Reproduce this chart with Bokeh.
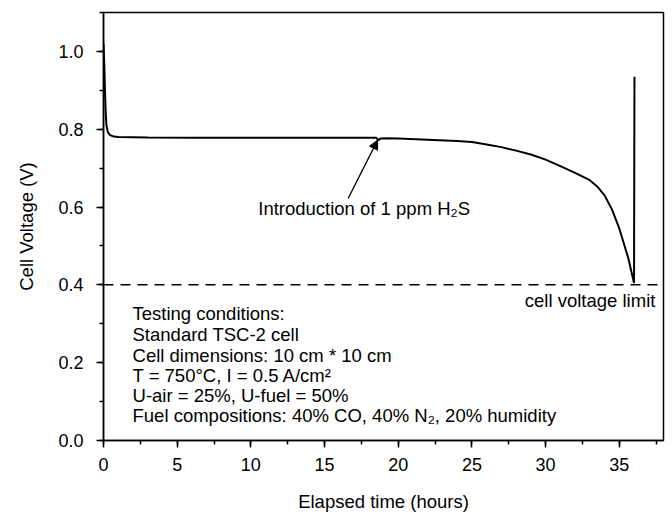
from bokeh.plotting import figure
from bokeh.models import SingleIntervalTicker, Arrow, NormalHead, Span, Label, CustomJSTickFormatter
from bokeh.embed import file_html
from bokeh.resources import INLINE

# Data
elapsed_hours = [0, 0.05, 0.1, 0.15, 0.2, 0.3, 0.45, 0.7, 1.0, 3, 6, 10, 14, 17,
                 18.5, 18.65, 18.8, 19.2, 20, 22, 24, 25, 26, 27, 28, 29, 30, 31,
                 32, 33, 33.5, 34, 34.5, 35, 35.6, 36.0, 36.03]
cell_voltage = [1.02, 0.97, 0.90, 0.84, 0.81, 0.792, 0.785, 0.781, 0.780, 0.779,
                0.778, 0.778, 0.778, 0.778, 0.778, 0.772, 0.776, 0.777, 0.776,
                0.773, 0.770, 0.767, 0.761, 0.754, 0.745, 0.735, 0.722, 0.705,
                0.688, 0.669, 0.653, 0.630, 0.594, 0.545, 0.47, 0.405, 0.935]
voltage_limit = 0.4
condition_lines = [
    "Testing conditions:",
    "Standard TSC-2 cell",
    "Cell dimensions: 10 cm * 10 cm",
    "T = 750°C, I = 0.5 A/cm²",
    "U-air = 25%, U-fuel = 50%",
    "Fuel compositions: 40% CO, 40% N₂, 20% humidity",
]
h2s_label = "Introduction of 1 ppm H₂S"
limit_label = "cell voltage limit"

FONT = "Liberation Sans"
TXT = "18.5px"

p = figure(width=672, height=515, x_range=(0, 38), y_range=(0, 1.1),
           output_backend="svg", toolbar_location=None,
           min_border_left=103, min_border_right=9, min_border_top=12,
           min_border_bottom=75)
p.background_fill_color = "white"
p.border_fill_color = "white"
p.outline_line_color = "black"
p.outline_line_width = 1.5
p.xgrid.visible = False
p.ygrid.visible = False

p.xaxis.ticker = SingleIntervalTicker(interval=5, num_minor_ticks=2)
p.yaxis.ticker = SingleIntervalTicker(interval=0.2, num_minor_ticks=2)
p.yaxis.formatter = CustomJSTickFormatter(code="return tick.toFixed(1);")

for ax in (p.xaxis[0], p.yaxis[0]):
    ax.axis_line_width = 1.5
    ax.axis_line_color = "black"
    ax.major_tick_line_width = 1.5
    ax.minor_tick_line_width = 1.5
    ax.major_tick_line_color = "black"
    ax.minor_tick_line_color = "black"
    ax.major_tick_out = 7
    ax.major_tick_in = 0
    ax.minor_tick_out = 4
    ax.minor_tick_in = 0
    ax.major_label_text_font = FONT
    ax.major_label_text_font_size = "18px"
    ax.major_label_text_color = "black"
    ax.axis_label_text_font = FONT
    ax.axis_label_text_font_size = "18.5px"
    ax.axis_label_text_font_style = "normal"
    ax.axis_label_text_color = "black"

p.xaxis.axis_label = "Elapsed time (hours)"
p.yaxis.axis_label = "Cell Voltage (V)"
p.xaxis.major_label_standoff = 10
p.xaxis.axis_label_standoff = 17
p.yaxis.major_label_standoff = 13
p.yaxis.axis_label_standoff = 18

p.add_layout(Span(location=voltage_limit, dimension="width", line_color="black",
                  line_width=1.5, line_dash="10 7"))

p.line(elapsed_hours, cell_voltage, line_color="black", line_width=2)

p.add_layout(Arrow(end=NormalHead(size=9, fill_color="black", line_color="black"),
                   x_start=16.6, y_start=0.622, x_end=18.6, y_end=0.772,
                   line_color="black", line_width=1.3))

p.add_layout(Label(x=10.5, y=0.596, text=h2s_label, text_font=FONT,
                   text_font_size=TXT, text_baseline="middle", text_color="black"))
p.add_layout(Label(x=37.45, y=0.36, text=limit_label, text_font=FONT,
                   text_font_size=TXT, text_baseline="middle", text_align="right",
                   text_color="black"))

cond_y = [0.326, 0.272, 0.218, 0.167, 0.116, 0.064]
for txt, yy in zip(condition_lines, cond_y):
    p.add_layout(Label(x=1.97, y=yy, text=txt, text_font=FONT, text_font_size=TXT,
                       text_baseline="middle", text_color="black"))

open("out.html", "w").write(file_html(p, INLINE))
